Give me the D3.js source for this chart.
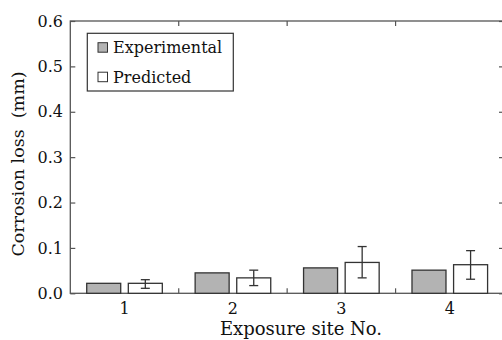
<!DOCTYPE html>
<html>
<head>
<meta charset="utf-8">
<script src="https://cdn.jsdelivr.net/npm/d3@7"></script>
<style>
  body { margin: 0; background: #fff; }
  text { font-family: "DejaVu Serif", "Liberation Serif", serif; fill: #111; }
</style>
</head>
<body>
<div id="chart"></div>
<script>
// Data
var sites = ["1", "2", "3", "4"];
var experimental = [0.022, 0.045, 0.056, 0.051];
var predicted = [0.022, 0.034, 0.068, 0.063];
var errLow = [0.011, 0.017, 0.034, 0.031];
var errHigh = [0.030, 0.051, 0.103, 0.094];
var yTicks = [0, 0.1, 0.2, 0.3, 0.4, 0.5, 0.6];

var W = 502, H = 340;
var mLeft = 70.3, mRight = 504, mTop = 21, mBottom = 293.3;

var svg = d3.select("#chart").append("svg")
  .attr("width", W).attr("height", H);

var x = d3.scaleBand().domain(sites).range([mLeft, mRight]);
var y = d3.scaleLinear().domain([0, 0.6]).range([mBottom, mTop]);

var axisColor = "#555";
var barW = 34, gap = 3.8;

// frame
svg.append("rect")
  .attr("x", mLeft).attr("y", mTop)
  .attr("width", mRight - mLeft).attr("height", mBottom - mTop)
  .attr("fill", "none").attr("stroke", axisColor).attr("stroke-width", 1.3);

// left and right axes: inward ticks
var yl = svg.append("g").attr("transform", `translate(${mLeft},0)`)
  .call(d3.axisRight(y).tickValues(yTicks).tickSize(5).tickFormat(""));
yl.select(".domain").remove();
yl.selectAll("line").attr("stroke", axisColor).attr("stroke-width", 1.2);

var yr = svg.append("g").attr("transform", `translate(${mRight},0)`)
  .call(d3.axisLeft(y).tickValues(yTicks).tickSize(5).tickFormat(""));
yr.select(".domain").remove();
yr.selectAll("line").attr("stroke", axisColor).attr("stroke-width", 1.2);

// y tick labels
svg.selectAll(".ylab").data(yTicks).enter().append("text")
  .attr("x", 63).attr("y", d => y(d))
  .attr("dy", "0.35em")
  .attr("text-anchor", "end")
  .attr("font-size", 16)
  .text(d => d3.format(".1f")(d));

// category separators on top and bottom
var seps = sites.slice(1).map(s => x(s));
svg.selectAll(".sepb").data(seps).enter().append("line")
  .attr("x1", d => d).attr("x2", d => d)
  .attr("y1", mBottom).attr("y2", mBottom - 5)
  .attr("stroke", axisColor).attr("stroke-width", 1.2);
svg.selectAll(".sept").data(seps).enter().append("line")
  .attr("x1", d => d).attr("x2", d => d)
  .attr("y1", mTop).attr("y2", mTop + 5)
  .attr("stroke", axisColor).attr("stroke-width", 1.2);

// x tick labels
svg.selectAll(".xlab").data(sites).enter().append("text")
  .attr("x", d => x(d) + x.bandwidth() / 2)
  .attr("y", 314)
  .attr("text-anchor", "middle")
  .attr("font-size", 16)
  .text(d => d);

// bars
var cx = d => x(d) + x.bandwidth() / 2;
svg.selectAll(".exp").data(sites).enter().append("rect")
  .attr("x", d => cx(d) - gap - barW)
  .attr("y", (d, i) => y(experimental[i]))
  .attr("width", barW)
  .attr("height", (d, i) => mBottom - y(experimental[i]))
  .attr("fill", "#b3b3b3").attr("stroke", "#333").attr("stroke-width", 1.3);

svg.selectAll(".pred").data(sites).enter().append("rect")
  .attr("x", d => cx(d) + gap)
  .attr("y", (d, i) => y(predicted[i]))
  .attr("width", barW)
  .attr("height", (d, i) => mBottom - y(predicted[i]))
  .attr("fill", "#fff").attr("stroke", "#333").attr("stroke-width", 1.3);

// error bars on predicted
var eb = svg.selectAll(".err").data(sites).enter().append("g");
eb.append("line")
  .attr("x1", d => cx(d) + gap + barW / 2).attr("x2", d => cx(d) + gap + barW / 2)
  .attr("y1", (d, i) => y(errLow[i])).attr("y2", (d, i) => y(errHigh[i]))
  .attr("stroke", "#333").attr("stroke-width", 1.3);
[errLow, errHigh].forEach(arr => {
  eb.append("line")
    .attr("x1", d => cx(d) + gap + barW / 2 - 4.5).attr("x2", d => cx(d) + gap + barW / 2 + 4.5)
    .attr("y1", (d, i) => y(arr[i])).attr("y2", (d, i) => y(arr[i]))
    .attr("stroke", "#333").attr("stroke-width", 1.3);
});

// axis titles
svg.append("text")
  .attr("x", 301).attr("y", 335)
  .attr("text-anchor", "middle").attr("font-size", 18)
  .text("Exposure site No.");

svg.append("text")
  .attr("transform", "translate(24,164) rotate(-90)")
  .attr("text-anchor", "middle").attr("font-size", 17.5)
  .style("white-space", "pre")
  .text("Corrosion loss  (mm)");

// legend
var leg = svg.append("g");
leg.append("rect")
  .attr("x", 87.3).attr("y", 33.3).attr("width", 146).attr("height", 57.7)
  .attr("fill", "#fff").attr("stroke", "#333").attr("stroke-width", 1.2);
var legItems = [{name: "Experimental", fill: "#b3b3b3"}, {name: "Predicted", fill: "#fff"}];
legItems.forEach((d, i) => {
  var yy = 47.5 + i * 29.5;
  leg.append("rect")
    .attr("x", 98).attr("y", yy - 4.8).attr("width", 9.5).attr("height", 9.5)
    .attr("fill", d.fill).attr("stroke", "#333").attr("stroke-width", 1);
  leg.append("text")
    .attr("x", 113).attr("y", yy).attr("dy", "0.35em")
    .attr("font-size", 16)
    .text(d.name);
});
</script>
</body>
</html>
